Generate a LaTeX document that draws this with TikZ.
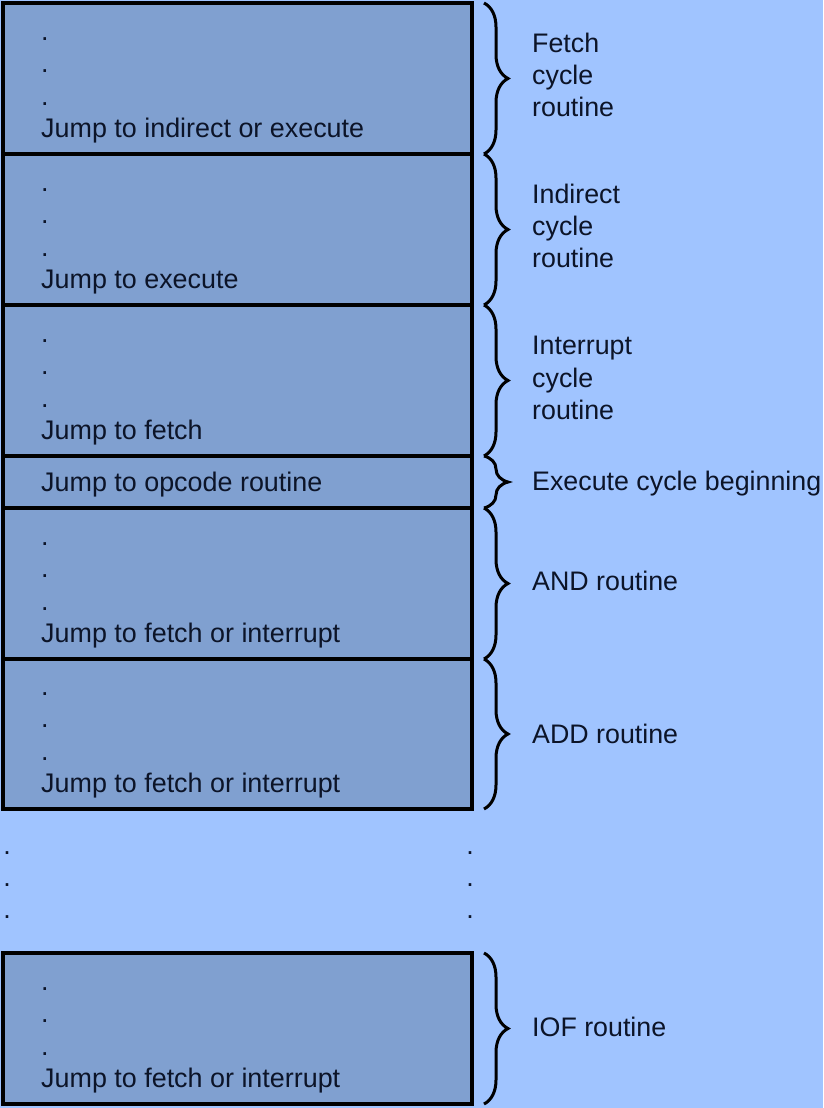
\documentclass[tikz,border=0pt]{standalone}
\usepackage{fontspec}
\setmainfont{Liberation Sans}
\usetikzlibrary{decorations.pathreplacing}
\definecolor{pagebg}{RGB}{160,196,255}
\definecolor{boxfill}{RGB}{128,160,208}
\definecolor{ink}{RGB}{12,20,40}

\tikzset{
  routine/.style={draw=black,line width=4pt,fill=boxfill,rectangle,inner sep=0pt,outer sep=0pt,anchor=north west,minimum width=469pt},
  code/.style={anchor=south west,align=left,inner sep=0pt,text=ink,font=\fontsize{26.9}{32.5}\selectfont},
  span/.style={decorate,decoration={brace,amplitude=24pt},line width=3pt},
  lbl/.style={anchor=west,align=left,inner sep=0pt,text=ink,font=\fontsize{26.8}{32.3}\selectfont},
  gapdot/.style={anchor=base,inner sep=0pt,text=ink,font=\fontsize{26.9}{32}\selectfont}
}

\begin{document}
\begin{tikzpicture}[x=1pt,y=-1pt]
\fill[pagebg] (0,0) rectangle (823,1108);
\useasboundingbox (0,0) rectangle (823,1108);
% memory blocks
\node[routine,minimum height=151pt] (fetch) at (3,3) {};
\node[routine,minimum height=151pt] (indirect) at (3,154) {};
\node[routine,minimum height=151pt] (intr) at (3,305) {};
\node[routine,minimum height=52pt] (exec) at (3,456) {};
\node[routine,minimum height=151pt] (andr) at (3,508) {};
\node[routine,minimum height=150pt] (addr) at (3,659) {};
\node[routine,minimum height=151pt] (iof) at (3,953) {};
% code lines
\node[code] (fetchtxt) at ([xshift=38pt,yshift=10.5pt]fetch.south west) {.\\.\\.\\Jump to indirect or execute};
\node[code] (indirecttxt) at ([xshift=38pt,yshift=10.5pt]indirect.south west) {.\\.\\.\\Jump to execute};
\node[code] (intrtxt) at ([xshift=38pt,yshift=10.5pt]intr.south west) {.\\.\\.\\Jump to fetch};
\node[code] (exectxt) at ([xshift=38pt,yshift=10.5pt]exec.south west) {Jump to opcode routine};
\node[code] (andtxt) at ([xshift=38pt,yshift=10.5pt]andr.south west) {.\\.\\.\\Jump to fetch or interrupt};
\node[code] (addtxt) at ([xshift=38pt,yshift=10.5pt]addr.south west) {.\\.\\.\\Jump to fetch or interrupt};
\node[code] (ioftxt) at ([xshift=38pt,yshift=10.5pt]iof.south west) {.\\.\\.\\Jump to fetch or interrupt};
% skipped memory
\foreach \y [count=\i] in {854.4,886.4,918.4} {
  \node[gapdot] (gl\i) at (7,\y) {.};
  \node[gapdot] (gr\i) at (470,\y) {.};
}
% braces
\draw[span] ([xshift=12pt]fetch.north east) -- ([xshift=12pt]fetch.south east);
\draw[span] ([xshift=12pt]indirect.north east) -- ([xshift=12pt]indirect.south east);
\draw[span] ([xshift=12pt]intr.north east) -- ([xshift=12pt]intr.south east);
\draw[span] ([xshift=12pt]exec.north east) -- ([xshift=12pt]exec.south east);
\draw[span] ([xshift=12pt]andr.north east) -- ([xshift=12pt]andr.south east);
\draw[span] ([xshift=12pt]addr.north east) -- ([xshift=12pt]addr.south east);
\draw[span] ([xshift=12pt]iof.north east) -- ([xshift=12pt]iof.south east);
% labels
\node[lbl] (fetchlbl) at ([xshift=60pt,yshift=3.5pt]fetch.east) {Fetch\\cycle\\routine};
\node[lbl] (indirectlbl) at ([xshift=60pt,yshift=3.5pt]indirect.east) {Indirect\\cycle\\routine};
\node[lbl] (intrlbl) at ([xshift=60pt,yshift=2.5pt]intr.east) {Interrupt\\cycle\\routine};
\node[lbl] (execlbl) at ([xshift=60pt,yshift=-1.5pt]exec.east) {Execute cycle beginning};
\node[lbl] (andlbl) at ([xshift=60pt,yshift=2.5pt]andr.east) {AND routine};
\node[lbl] (addlbl) at ([xshift=60pt]addr.east) {ADD routine};
\node[lbl] (ioflbl) at ([xshift=60pt,yshift=1.5pt]iof.east) {IOF routine};
\end{tikzpicture}
\end{document}
